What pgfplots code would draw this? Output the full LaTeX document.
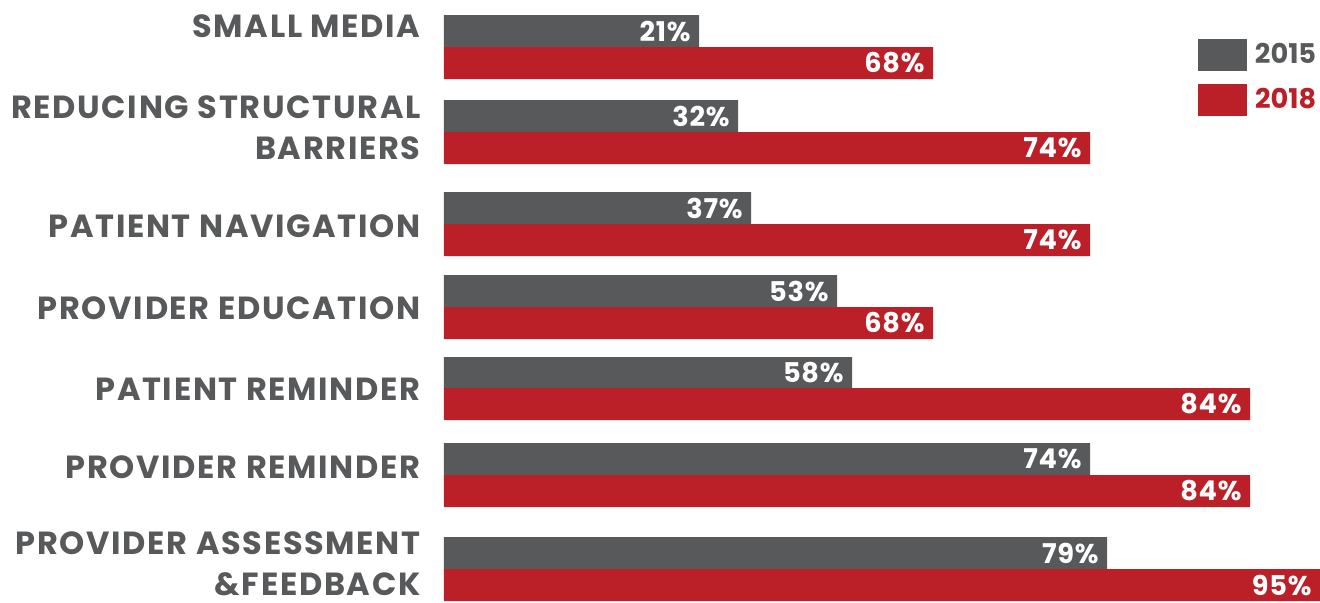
\documentclass[border=0pt]{standalone}
\usepackage{pgfplots}
\pgfplotsset{compat=1.18}
\usepackage{fontspec}
\setmainfont{Poppins}
\definecolor{bargray}{RGB}{88,89,91}
\definecolor{barred}{RGB}{187,31,40}

\begin{document}
\begin{tikzpicture}
% the bars of the original are not drawn to a linear scale, so x holds
% the length each bar has in the picture and the label holds its value
\begin{axis}[
    scale only axis, width=438pt, height=301pt,
    clip=false,
    xmin=0, xmax=876, ymin=0, ymax=602, y dir=reverse,
    axis line style={draw=none},
    tick style={draw=none},
    xtick=\empty,
    ytick={26.5,127.5,226.5,308.5,389,467,564},
    yticklabels={SMALL MEDIA, {REDUCING STRUCTURAL\\BARRIERS}, PATIENT NAVIGATION, PROVIDER EDUCATION, PATIENT REMINDER, PROVIDER REMINDER, {PROVIDER ASSESSMENT\\\&FEEDBACK}},
    yticklabel style={align=right, text=bargray, inner sep=0pt, xshift=-11.5pt,
        font=\bfseries\fontsize{16}{20.25}\selectfont\addfontfeatures{LetterSpace=5.3}},
    point meta=explicit symbolic,
    nodes near coords,
    every node near coord/.append style={anchor=east, text=white, inner sep=0pt, xshift=-4pt,
        font=\bfseries\fontsize{13.6}{14}\selectfont\addfontfeatures{LetterSpace=3}},
    mybar/.style={xbar, bar width=16pt, bar shift=0pt, draw=none,
        legend image code/.code={\fill[##1] (0pt,-8pt) rectangle (24.5pt,8pt);}},
    legend style={draw=none, fill=none, inner sep=0pt, outer sep=0pt,
        at={(axis description cs:0.8607,0.9352)}, anchor=north west,
        row sep=6.5pt, column sep=4pt,
        nodes={inner sep=0pt, font=\bfseries\fontsize{13.6}{14}\selectfont}},
]
\addplot[mybar, fill=bargray] coordinates {
    (255,31) [21\%]
    (294,116) [32\%]
    (307,208) [37\%]
    (393,291) [53\%]
    (408,373) [58\%]
    (646,459) [74\%]
    (663,553) [79\%]
};
\addplot[mybar, fill=barred] coordinates {
    (489,63) [68\%]
    (646,148) [74\%]
    (646,240) [74\%]
    (489,323) [68\%]
    (806,404) [84\%]
    (806,491) [84\%]
    (876,585) [95\%]
};
\legend{\textcolor{bargray}{2015}, \textcolor{barred}{2018}}
\end{axis}
\pgfresetboundingbox
\useasboundingbox ([xshift=-222pt]current axis.south west) rectangle (current axis.north east);
\end{tikzpicture}
\end{document}
